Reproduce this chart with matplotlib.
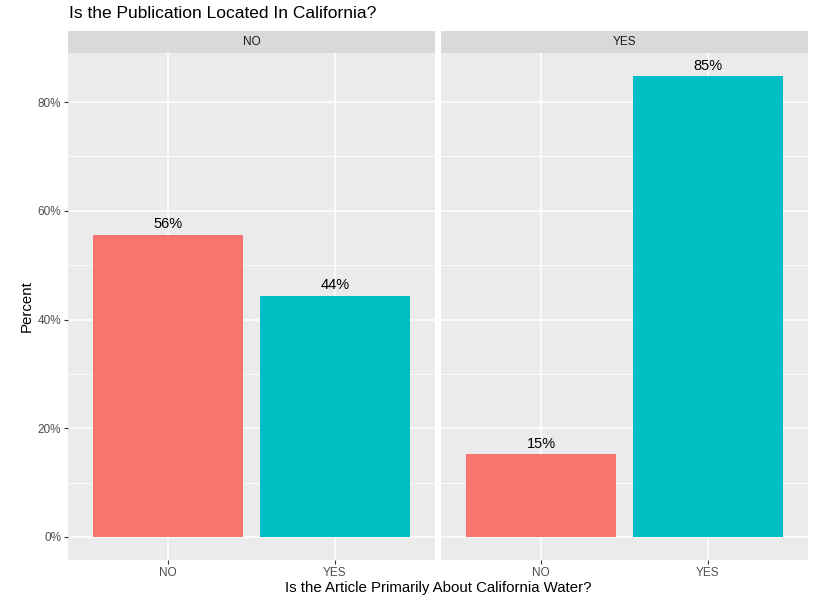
import numpy as np
import matplotlib.pyplot as plt
from matplotlib.ticker import FixedLocator

plt.rcParams['font.family'] = ['Liberation Sans', 'DejaVu Sans']

# data
facets = ['NO', 'YES']
categories = ['NO', 'YES']
percents = {'NO': [55.6, 44.4], 'YES': [15.2, 84.8]}
labels = {'NO': ['56%', '44%'], 'YES': ['15%', '85%']}
colors = ['#F8766D', '#00BFC4']
yticks = [0, 20, 40, 60, 80]
ytick_labels = ['0%', '20%', '40%', '60%', '80%']

W, H = 831, 601
fig = plt.figure(figsize=(W / 100, H / 100), dpi=100)

panel_left = [68, 441]
panel_w = 367
panel_top, panel_bot = 53, 560
strip_h = 22

for i, f in enumerate(facets):
    ax = fig.add_axes([panel_left[i] / W, 1 - panel_bot / H, panel_w / W, (panel_bot - panel_top) / H])
    ax.set_facecolor('#EBEBEB')
    x = np.arange(1, len(categories) + 1)
    ax.bar(x, percents[f], width=0.9, color=colors, zorder=3)
    for xi, v, lab in zip(x, percents[f], labels[f]):
        ax.text(xi, v + 0.6, lab, ha='center', va='bottom', fontsize=10.5, color='black', zorder=4)
    ax.set_xlim(0.4, 2.6)
    ax.set_ylim(-4.24, 89.04)
    ax.set_xticks(x)
    ax.set_xticklabels(categories)
    ax.set_yticks(yticks)
    ax.yaxis.set_minor_locator(FixedLocator([10, 30, 50, 70]))
    ax.xaxis.set_minor_locator(FixedLocator([]))
    ax.grid(True, which='major', color='white', lw=1.1, zorder=0)
    ax.grid(True, which='minor', axis='y', color='white', lw=0.55, zorder=0)
    for s in ax.spines.values():
        s.set_visible(False)
    ax.tick_params(axis='both', which='major', colors='#333333', labelcolor='#4D4D4D',
                   labelsize=8.5, length=3, width=0.8, pad=2)
    ax.tick_params(axis='y', which='minor', length=0)
    if i == 0:
        ax.set_yticklabels(ytick_labels)
    else:
        ax.tick_params(axis='y', which='both', length=0, labelleft=False)
    # facet strip
    sax = fig.add_axes([panel_left[i] / W, 1 - panel_top / H, panel_w / W, strip_h / H])
    sax.set_facecolor('#D9D9D9')
    sax.set_xticks([])
    sax.set_yticks([])
    for s in sax.spines.values():
        s.set_visible(False)
    sax.text(0.5, 0.5, f, ha='center', va='center', fontsize=8.5, color='#1A1A1A',
             transform=sax.transAxes)

fig.text(69 / W, 1 - 14 / H, 'Is the Publication Located In California?', ha='left', va='center',
         fontsize=12.5, color='black')
fig.text((68 + 808) / 2 / W, 1 - 588 / H, 'Is the Article Primarily About California Water?',
         ha='center', va='center', fontsize=10.8, color='black')
fig.text(27 / W, 1 - 306 / H, 'Percent', rotation=90, ha='center', va='center',
         fontsize=10.8, color='black')

fig.savefig('out.png', dpi=100, facecolor='white')
